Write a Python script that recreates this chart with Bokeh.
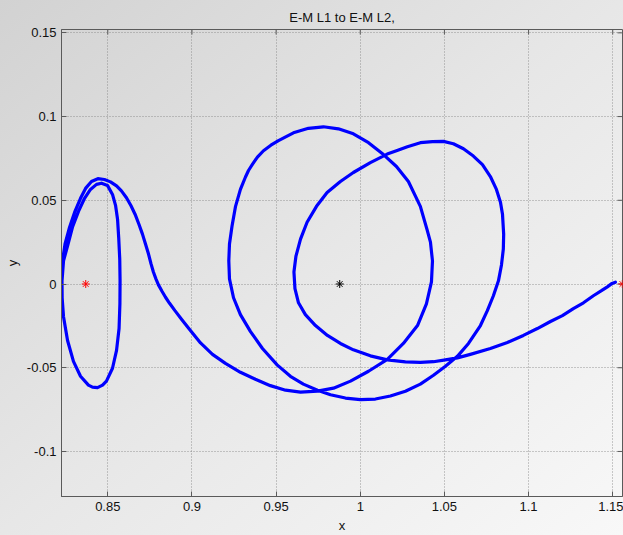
import math
from bokeh.plotting import figure
from bokeh.models import Range1d, FixedTicker, InlineStyleSheet
from bokeh.embed import file_html
from bokeh.resources import INLINE

# Trajectory (rotating frame, Earth-Moon units)
traj_x = [
    0.8229, 0.8228, 0.8237, 0.8264, 0.8290, 0.8326, 0.8362, 0.8397, 0.8433, 0.8463,
    0.8498, 0.8528, 0.8546, 0.8558, 0.8565, 0.8571, 0.8573, 0.8572, 0.8567, 0.8552,
    0.8528, 0.8492, 0.8469, 0.8439, 0.8409, 0.8385, 0.8338, 0.8296, 0.8261, 0.8237, 0.8227, 0.8225,
    0.8231, 0.8246, 0.8273, 0.8305, 0.8338, 0.8368, 0.8403, 0.8441, 0.8480,
    0.8516, 0.8552, 0.8581, 0.8611, 0.8638, 0.8662, 0.8685, 0.8706, 0.8724, 0.8742,
    0.8757, 0.8771, 0.8786, 0.8801, 0.8822, 0.8843, 0.8867, 0.8899, 0.8938, 0.8991,
    0.9051, 0.9122, 0.9199, 0.9288, 0.9377, 0.9466, 0.9556, 0.9645, 0.9746, 0.9841,
    0.9942, 1.0049, 1.0161, 1.0256, 1.0340, 1.0393, 1.0423, 1.0429, 1.0417, 1.0396,
    1.0357, 1.0286, 1.0215, 1.0138, 1.0049, 0.9959, 0.9870, 0.9781, 0.9692, 0.9603,
    0.9514, 0.9469, 0.9425, 0.9389, 0.9360, 0.9336, 0.9318, 0.9288, 0.9259, 0.9238,
    0.9223, 0.9219, 0.9223, 0.9247, 0.9288, 0.9348, 0.9419, 0.9506, 0.9585, 0.9662,
    0.9746, 0.9823, 0.9912, 1.0001, 1.0090, 1.0179, 1.0268, 1.0357, 1.0435, 1.0506,
    1.0577, 1.0643, 1.0714, 1.0755, 1.0791, 1.0821, 1.0839, 1.0850, 1.0852, 1.0845,
    1.0833, 1.0809, 1.0773, 1.0726, 1.0672, 1.0613, 1.0553, 1.0494, 1.0429, 1.0357,
    1.0280, 1.0215, 1.0160, 1.0060, 0.9959, 0.9882, 0.9803, 0.9740, 0.9684, 0.9645,
    0.9618, 0.9606, 0.9612, 0.9633, 0.9674, 0.9734, 0.9805, 0.9882, 0.9959, 1.0060,
    1.0161, 1.0268, 1.0357, 1.0435, 1.0506, 1.0577, 1.0654, 1.0773, 1.0874, 1.0969,
    1.1052, 1.1130, 1.1201, 1.1266, 1.1326, 1.1385, 1.1433, 1.1468, 1.1492, 1.1516,
]
traj_y = [
    -0.0088, 0.0019, 0.0138, 0.0239, 0.0339, 0.0434, 0.0512, 0.0565, 0.0595, 0.0602,
    0.0589, 0.0535, 0.0470, 0.0387, 0.0274, 0.0150, 0.0019, -0.0118, -0.0266, -0.0396,
    -0.0503, -0.0580, -0.0604, -0.0619, -0.0616, -0.0604, -0.0551, -0.0462, -0.0337, -0.0195, -0.0058, 0.0031,
    0.0138, 0.0239, 0.0339, 0.0434, 0.0512, 0.0571, 0.0612, 0.0629, 0.0624,
    0.0610, 0.0586, 0.0556, 0.0515, 0.0467, 0.0417, 0.0357, 0.0298, 0.0239, 0.0179,
    0.0120, 0.0072, 0.0031, -0.0005, -0.0043, -0.0079, -0.0115, -0.0159, -0.0210, -0.0278,
    -0.0352, -0.0420, -0.0474, -0.0527, -0.0569, -0.0607, -0.0634, -0.0646, -0.0640, -0.0622,
    -0.0580, -0.0521, -0.0450, -0.0355, -0.0248, -0.0118, 0.0013, 0.0138, 0.0250, 0.0328,
    0.0464, 0.0612, 0.0702, 0.0773, 0.0844, 0.0897, 0.0927, 0.0939, 0.0930, 0.0903,
    0.0856, 0.0829, 0.0796, 0.0758, 0.0716, 0.0678, 0.0639, 0.0565, 0.0464, 0.0345,
    0.0239, 0.0138, 0.0031, -0.0082, -0.0183, -0.0284, -0.0385, -0.0483, -0.0551, -0.0598,
    -0.0634, -0.0661, -0.0681, -0.0690, -0.0687, -0.0669, -0.0640, -0.0598, -0.0545, -0.0491,
    -0.0432, -0.0355, -0.0248, -0.0159, -0.0070, 0.0019, 0.0114, 0.0209, 0.0298, 0.0417,
    0.0488, 0.0565, 0.0642, 0.0713, 0.0764, 0.0808, 0.0838, 0.0852, 0.0850, 0.0844,
    0.0820, 0.0796, 0.0776, 0.0725, 0.0666, 0.0612, 0.0547, 0.0464, 0.0369, 0.0268,
    0.0167, 0.0072, -0.0028, -0.0112, -0.0183, -0.0248, -0.0307, -0.0355, -0.0393, -0.0429,
    -0.0453, -0.0465, -0.0468, -0.0464, -0.0453, -0.0441, -0.0420, -0.0385, -0.0349, -0.0307,
    -0.0266, -0.0224, -0.0189, -0.0147, -0.0112, -0.0070, -0.0040, -0.0017, 0.0001, 0.0011,
]

# Libration points (red) and Moon (black)
lib_x = [0.8369, 1.1557]
lib_y = [0.0, 0.0]
moon_x = [0.9878]
moon_y = [0.0]

x_ticks = [0.85, 0.9, 0.95, 1.0, 1.05, 1.1, 1.15]
x_tick_labels = ["0.85", "0.9", "0.95", "1", "1.05", "1.1", "1.15"]
y_ticks = [-0.1, -0.05, 0.0, 0.05, 0.1, 0.15]
y_tick_labels = ["-0.1", "-0.05", "0", "0.05", "0.1", "0.15"]

x_lo, x_hi = 0.8225, 1.1558
y_lo, y_hi = -0.1269, 0.1520

FONT = "Liberation Sans"
AXIS_COLOR = "#5a5a5a"

p = figure(width=623, height=535, output_backend="svg", toolbar_location=None,
           x_range=Range1d(x_lo, x_hi), y_range=Range1d(y_lo, y_hi),
           min_border_left=61, min_border_right=1, min_border_top=29, min_border_bottom=36,
           title="E-M L1 to E-M L2,")

p.stylesheets = [InlineStyleSheet(css=":host { background: linear-gradient(to bottom right, #d2d2d2 0%, #e7e7e7 50%, #f8f8f8 100%); }")]
p.border_fill_alpha = 0
p.background_fill_alpha = 0
p.outline_line_color = AXIS_COLOR
p.outline_line_width = 1

p.title.text_font = FONT
p.title.text_font_size = "13px"
p.title.text_font_style = "normal"
p.title.align = "center"
p.title.text_color = "#111111"

for ax, ticks, labels in ((p.xaxis[0], x_ticks, x_tick_labels), (p.yaxis[0], y_ticks, y_tick_labels)):
    ax.ticker = FixedTicker(ticks=ticks)
    ax.major_label_overrides = dict(zip(ticks, labels))
    ax.major_tick_in = 5
    ax.major_tick_out = 0
    ax.minor_tick_line_color = None
    ax.axis_line_color = AXIS_COLOR
    ax.major_tick_line_color = AXIS_COLOR
    ax.major_label_text_font = FONT
    ax.major_label_text_font_size = "13px"
    ax.major_label_text_color = "#111111"
    ax.axis_label_text_font = FONT
    ax.axis_label_text_font_size = "13px"
    ax.axis_label_text_font_style = "normal"
    ax.axis_label_text_color = "#111111"
    ax.major_label_standoff = 5

p.xaxis.axis_label = "x"
p.yaxis.axis_label = "y"
p.xaxis.axis_label_standoff = 4
p.yaxis.axis_label_standoff = 4

# inward ticks on the top and right edges of the box
p.ray(x=x_ticks, y=[y_hi] * len(x_ticks), length=5, length_units="screen",
      angle=-math.pi / 2, line_color=AXIS_COLOR, line_width=1)
p.ray(x=[x_hi] * len(y_ticks), y=y_ticks, length=5, length_units="screen",
      angle=math.pi, line_color=AXIS_COLOR, line_width=1)

p.grid.grid_line_color = "#808080"
p.grid.grid_line_alpha = 0.8
p.grid.grid_line_dash = "1 2"
p.grid.grid_line_width = 1

p.line(traj_x, traj_y, line_color="#0000ff", line_width=3.2, line_join="round", line_cap="round")
p.scatter(lib_x, lib_y, marker="asterisk", size=8, line_color="#ff0000", line_width=1)
p.scatter(moon_x, moon_y, marker="asterisk", size=8, line_color="#000000", line_width=1)

open("out.html", "w").write(file_html(p, INLINE))
